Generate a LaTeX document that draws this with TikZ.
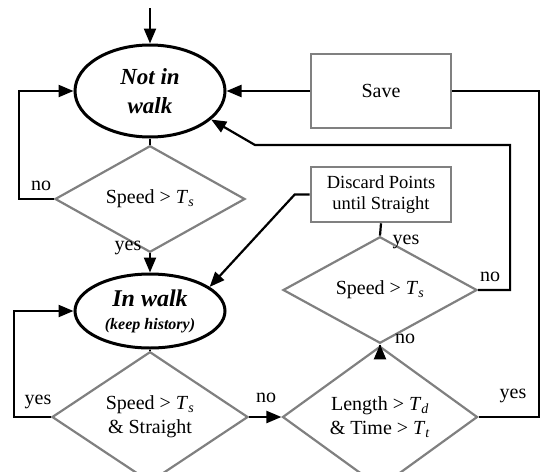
\documentclass[tikz,border=0pt]{standalone}
\usepackage{fontspec}
\setmainfont{Liberation Serif}
\usetikzlibrary{shapes.geometric,arrows.meta}
\definecolor{boxgray}{RGB}{128,128,128}
\begin{document}
\begin{tikzpicture}[x=1pt,y=-1pt,
  conn/.style={draw=black,line width=2.2pt},
  arr/.style={conn,-{Triangle[length=15pt,width=12pt]}},
  state/.style={ellipse,draw=black,line width=3pt,inner sep=0pt,minimum width=150pt,align=center},
  decision/.style={diamond,draw=boxgray,line width=2.2pt,inner sep=0pt,align=center,font=\fontsize{20}{24}\selectfont},
  procbox/.style={rectangle,draw=boxgray,line width=2.6pt,align=center,minimum width=140pt,inner sep=0pt},
  lbl/.style={font=\fontsize{20}{24}\selectfont,inner sep=0pt}
]
\useasboundingbox (0,0) rectangle (540,471);

% nodes
\node[state,minimum height=92pt,font=\fontsize{23}{29}\selectfont\bfseries\itshape] (niw) at (150,91) {Not in\\walk};
\node[state,minimum height=74pt,font=\fontsize{16}{23}\selectfont\bfseries\itshape] (iw) at (150,311)
  {{\fontsize{24}{26}\selectfont In walk}\\(keep history)};
\node[decision,minimum width=190pt,minimum height=74pt] (d1) at (150,199)
  {Speed > \textit{T}\textsubscript{\textit{s}}};
\node[decision,minimum width=196pt,minimum height=108pt] (d2) at (150,417)
  {Speed > \textit{T}\textsubscript{\textit{s}}\\\& Straight};
\node[decision,minimum width=195pt,minimum height=108pt] (d3) at (380,417)
  {Length > \textit{T}\textsubscript{\textit{d}}\\\& Time > \textit{T}\textsubscript{\textit{t}}};
\node[decision,minimum width=194pt,minimum height=75pt] (d4) at (380,290)
  {Speed > \textit{T}\textsubscript{\textit{s}}};
\node[procbox,minimum height=74pt,font=\fontsize{20}{24}\selectfont] (save) at (381,91) {Save};
\node[procbox,minimum height=55pt,font=\fontsize{18.5}{20.5}\selectfont] (disc) at (381,194.5) {Discard Points\\until Straight};

% labels
\node[lbl] (l1) at (41,186) {no};
\node[lbl] (l2) at (128,248) {yes};
\node[lbl] (l3) at (38,402) {yes};
\node[lbl] (l4) at (266,398) {no};
\node[lbl] (l5) at (405,339) {no};
\node[lbl] (l6) at (406,242) {yes};
\node[lbl] (l7) at (490,277) {no};
\node[lbl] (l8) at (513,396) {yes};

% connectors
\coordinate (start) at (150,8);
\coordinate (bend) at (255,145);
\draw[arr] (start) -- (niw);
\draw[arr] (d1.west) -- ++(-35,0) |- (niw.west);
\draw[conn] (niw.south) -- (d1.north);
\draw[arr] (d1.south) -- (iw.north);
\draw[conn] (iw.south) -- (d2.north);
\draw[arr] (d2.west) -- ++(-37,0) |- (iw.west);
\draw[arr] (d2.east) -- (d3.west);
\draw[arr] (d3.north) -- (d4.south);
\draw[conn] (d4.north) -- (disc.south);
\draw[arr] (disc.west) -- ++(-15,0) -- (iw.22);
\draw[arr] (d4.east) -- ++(32,0) |- (bend) -- (niw.-25);
\draw[arr] (save.west) -- (niw.east);
\draw[conn] (d3.east) -- ++(60,0) |- (save.east);
\end{tikzpicture}
\end{document}
